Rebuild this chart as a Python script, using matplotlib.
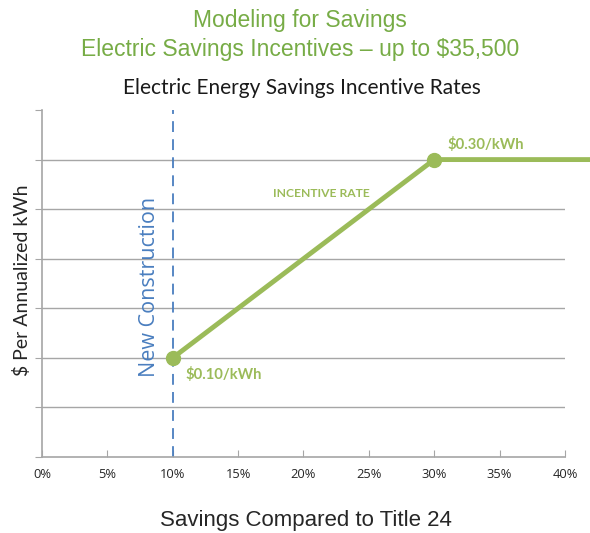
import matplotlib
matplotlib.use("Agg")
import matplotlib.pyplot as plt

# data
savings_pct = [10, 30, 42]          # % savings vs Title 24
rate = [0.10, 0.30, 0.30]           # $ per annualized kWh
marker_pct = [10, 30]
marker_rate = [0.10, 0.30]
new_construction_pct = 10
x_ticks = [0, 5, 10, 15, 20, 25, 30, 35, 40]
grid_levels = [0.05, 0.10, 0.15, 0.20, 0.25, 0.30]

GREEN = "#9BBB59"
TITLE_GREEN = "#77AC46"
BLUE = "#4A7EBF"
GRID = "#A6A6A6"

fig = plt.figure(figsize=(5.9, 5.33), dpi=100)
ax = fig.add_axes([0.0712, 0.1426, 0.8864, 0.651])

# gridlines
for g in grid_levels:
    ax.axhline(g, color=GRID, lw=1.0, zorder=1)

ax.axvline(new_construction_pct, color=BLUE, lw=1.3, ls=(0, (6, 4)), zorder=2)

ax.plot(savings_pct, rate, color=GREEN, lw=3.5, clip_on=False, zorder=3,
        solid_capstyle="butt")
ax.plot(marker_pct, marker_rate, "o", color=GREEN, ms=10, zorder=4)

ax.set_xlim(0, 40)
ax.set_ylim(0, 0.35)
ax.set_xticks(x_ticks)
ax.set_xticklabels([f"{t}%" for t in x_ticks], fontsize=9.3, color="#262626",
                   family="Open Sans")
ax.set_yticks([0] + grid_levels + [0.35])
ax.set_yticklabels([])
ax.tick_params(axis="x", direction="in", length=5, color=GRID, pad=8)
ax.tick_params(axis="y", direction="out", length=5, color=GRID)
for s in ["top", "right"]:
    ax.spines[s].set_visible(False)
for s in ["left", "bottom"]:
    ax.spines[s].set_color(GRID)
    ax.spines[s].set_linewidth(1.2)

# annotations
ax.text(31.0, 0.315, "$0.30/kWh", color=GREEN, fontsize=10.6, fontweight="bold",
        family="Lato", va="center", ha="left")
ax.text(11.0, 0.083, "$0.10/kWh", color=GREEN, fontsize=10.6, fontweight="bold",
        family="Lato", va="center", ha="left")
ax.text(17.7, 0.266, "INCENTIVE RATE", color=GREEN, fontsize=8.7, fontweight="bold",
        family="Lato", va="center", ha="left")
ax.text(8.2, 0.172, "New Construction", color=BLUE, fontsize=15.5,
        family="Open Sans", rotation=90, va="center", ha="center")

fig.text(0.508, 0.962, "Modeling for Savings", color=TITLE_GREEN, fontsize=16.5,
         family="Liberation Sans", ha="center", va="center")
fig.text(0.508, 0.908, "Electric Savings Incentives \u2013 up to $35,500",
         color=TITLE_GREEN, fontsize=16.5, family="Liberation Sans",
         ha="center", va="center")
fig.text(0.512, 0.834, "Electric Energy Savings Incentive Rates", color="#1a1a1a",
         fontsize=15, family="Lato", ha="center", va="center")
fig.text(0.518, 0.024, "Savings Compared to Title 24", color="#262626",
         fontsize=16, family="Liberation Sans", ha="center", va="center")
fig.text(0.037, 0.475, "$ Per Annualized kWh", color="#262626", fontsize=14,
         family="Lato", rotation=90, ha="center", va="center")

fig.savefig("out.png", dpi=100)
